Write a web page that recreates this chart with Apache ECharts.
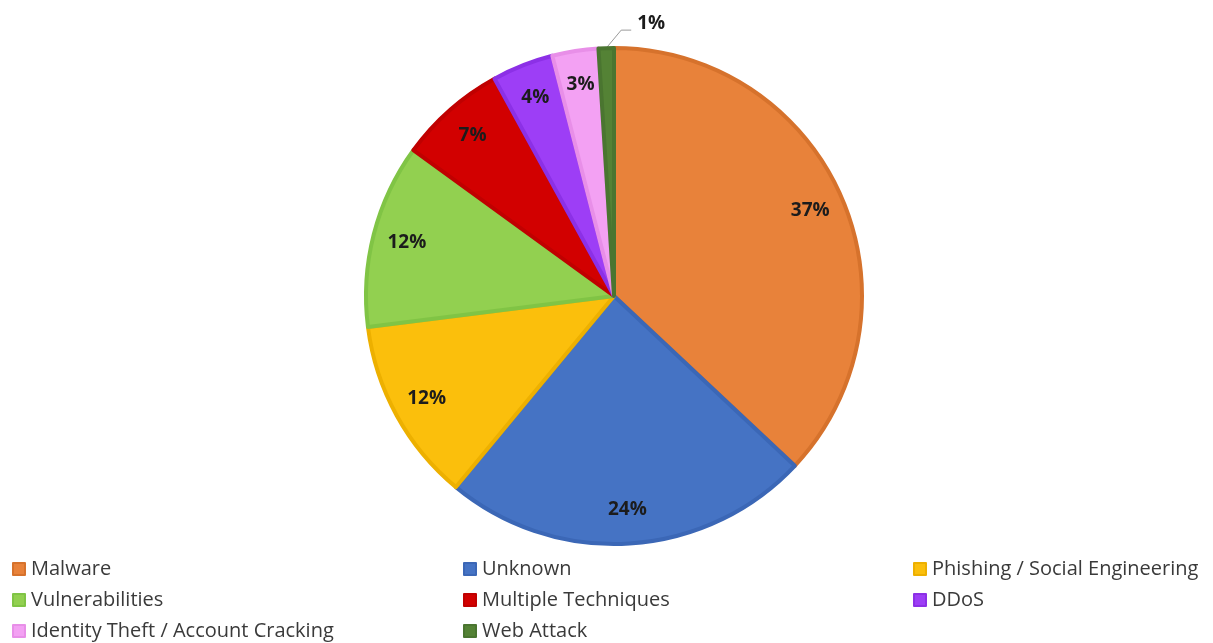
<!DOCTYPE html>
<html>
<head>
<meta charset="utf-8">
<style>
  html, body { margin: 0; padding: 0; background: #ffffff; }
  #chart { width: 1213px; height: 643px; }
</style>
<script src="https://cdn.jsdelivr.net/npm/echarts@6/dist/echarts.min.js"></script>
</head>
<body>
<div id="chart"></div>
<script>
// Share of incidents by attack technique (percent)
const categories = [
  'Malware', 'Unknown', 'Phishing / Social Engineering', 'Vulnerabilities',
  'Multiple Techniques', 'DDoS', 'Identity Theft / Account Cracking', 'Web Attack'
];
const shares = [37, 24, 12, 12, 7, 4, 3, 1];
const fillColors = ['#E8823A', '#4573C4', '#FBBF0C', '#92D050', '#D20000', '#9D3EF6', '#F3A1F3', '#548235'];
const edgeColors = ['#D6722C', '#3B67B6', '#EDB000', '#80C445', '#C00000', '#8C30E6', '#E88FE8', '#4A7530'];

// legend columns, left to right
const legendColumns = [
  ['Malware', 'Vulnerabilities', 'Identity Theft / Account Cracking'],
  ['Unknown', 'Multiple Techniques', 'Web Attack'],
  ['Phishing / Social Engineering', 'DDoS']
];
const legendLeft = [12, 463, 913];

const center = [614, 296];
const R = 248;

const pieData = categories.map((name, i) => ({
  name,
  value: shares[i],
  itemStyle: { color: fillColors[i], borderColor: edgeColors[i] }
}));

// label ring: transparent slices whose inside labels sit near the rim
const labelData = categories.map((name, i) => {
  const item = { name, value: shares[i], itemStyle: { color: 'rgba(0,0,0,0)' } };
  if (shares[i] <= 1) {
    item.label = { position: 'outside' };
    item.labelLine = { show: true, length: 16, length2: 10, lineStyle: { color: '#9a9a9a', width: 1 } };
  }
  return item;
});

// the thin top slice carries its label out to the right of its leader line
function topLabelLayout(params) {
  if (shares[params.dataIndex] > 1 || !params.labelLinePoints) return;
  const p0 = params.labelLinePoints[0];
  const p1 = [p0[0] + 15, p0[1] - 18];
  const p2 = [p1[0] + 10, p1[1]];
  return {
    x: p2[0] + 6,
    y: p2[1] - 7,
    align: 'left',
    verticalAlign: 'middle',
    labelLinePoints: [p0, p1, p2]
  };
}

const chart = echarts.init(document.getElementById('chart'), null, { renderer: 'canvas' });
chart.setOption({
  backgroundColor: '#ffffff',
  animation: false,
  legend: legendColumns.map((col, k) => ({
    data: col,
    orient: 'vertical',
    left: legendLeft[k],
    top: 559,
    height: 84,
    padding: 0,
    itemWidth: 12,
    itemHeight: 12,
    itemGap: 11,
    icon: 'rect',
    selectedMode: false,
    textStyle: { fontFamily: 'Open Sans', fontSize: 20, lineHeight: 20, color: '#3a3a3a', padding: [0, 0, 0, 1] }
  })),
  series: [
    {
      type: 'pie',
      center,
      radius: [0, R],
      startAngle: 90,
      clockwise: true,
      avoidLabelOverlap: false,
      label: { show: false },
      labelLine: { show: false },
      itemStyle: { borderWidth: 4 },
      emphasis: { disabled: true },
      data: pieData
    },
    {
      type: 'pie',
      center,
      radius: [R * 0.70, R],
      startAngle: 90,
      clockwise: true,
      silent: true,
      avoidLabelOverlap: false,
      legendHoverLink: false,
      label: {
        show: true,
        position: 'inside',
        formatter: '{c}%',
        fontFamily: 'Open Sans',
        fontWeight: 'bold',
        fontSize: 19,
        color: '#1c1c1c'
      },
      labelLine: { show: false },
      labelLayout: topLabelLayout,
      emphasis: { disabled: true },
      data: labelData
    }
  ]
});
</script>
</body>
</html>
